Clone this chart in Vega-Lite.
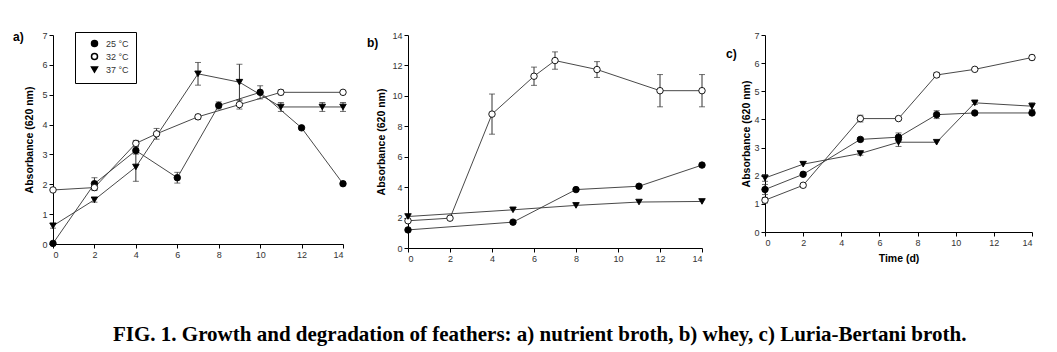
{
  "$schema": "https://vega.github.io/schema/vega-lite/v6.json",
  "background": "white",
  "padding": {"left": 13, "top": 31, "right": 5, "bottom": 5},
  "spacing": 18,
  "title": {"text": "FIG. 1. Growth and degradation of feathers: a) nutrient broth, b) whey, c) Luria-Bertani broth.", "orient": "bottom", "anchor": "start", "frame": "group", "dx": 60, "offset": 60, "font": "Liberation Serif", "fontSize": 21, "fontWeight": "bold", "color": "black"},
  "config": {
    "view": {"stroke": null},
    "axis": {"domainColor": "black", "tickColor": "black", "tickSize": 4, "labelFont": "Liberation Sans", "labelFontSize": 9, "labelColor": "#333", "titleFont": "Liberation Sans", "titleFontSize": 10.5, "titleFontWeight": "bold", "titleColor": "black", "grid": false, "labelPadding": 2}
  },
  "resolve": {"legend": {"shape": "independent", "fill": "independent"}},
  "datasets": {
    "a": [
      {"t": 0, "s": "25 °C", "v": 0.02, "e": 0},
      {"t": 2, "s": "25 °C", "v": 2.02, "e": 0.2},
      {"t": 4, "s": "25 °C", "v": 3.13, "e": 0.12},
      {"t": 6, "s": "25 °C", "v": 2.22, "e": 0.18},
      {"t": 8, "s": "25 °C", "v": 4.64, "e": 0.12},
      {"t": 10, "s": "25 °C", "v": 5.08, "e": 0.22},
      {"t": 12, "s": "25 °C", "v": 3.89, "e": 0},
      {"t": 14, "s": "25 °C", "v": 2.02, "e": 0.05},
      {"t": 0, "s": "32 °C", "v": 1.81, "e": 0},
      {"t": 2, "s": "32 °C", "v": 1.89, "e": 0.1},
      {"t": 4, "s": "32 °C", "v": 3.37, "e": 0.1},
      {"t": 5, "s": "32 °C", "v": 3.69, "e": 0.18},
      {"t": 7, "s": "32 °C", "v": 4.26, "e": 0.08},
      {"t": 9, "s": "32 °C", "v": 4.67, "e": 0.15},
      {"t": 11, "s": "32 °C", "v": 5.08, "e": 0.08},
      {"t": 14, "s": "32 °C", "v": 5.08, "e": 0.05},
      {"t": 0, "s": "37 °C", "v": 0.61, "e": 0.08},
      {"t": 2, "s": "37 °C", "v": 1.48, "e": 0.08},
      {"t": 4, "s": "37 °C", "v": 2.58, "e": 0.48},
      {"t": 7, "s": "37 °C", "v": 5.7, "e": 0.38},
      {"t": 9, "s": "37 °C", "v": 5.42, "e": 0.6},
      {"t": 11, "s": "37 °C", "v": 4.59, "e": 0.15},
      {"t": 13, "s": "37 °C", "v": 4.59, "e": 0.15},
      {"t": 14, "s": "37 °C", "v": 4.59, "e": 0.15}
    ],
    "b": [
      {"t": 0, "s": "32 °C", "v": 1.79, "e": 0},
      {"t": 2, "s": "32 °C", "v": 1.96, "e": 0},
      {"t": 4, "s": "32 °C", "v": 8.8, "e": 1.32},
      {"t": 6, "s": "32 °C", "v": 11.29, "e": 0.6},
      {"t": 7, "s": "32 °C", "v": 12.32, "e": 0.57},
      {"t": 9, "s": "32 °C", "v": 11.73, "e": 0.52},
      {"t": 12, "s": "32 °C", "v": 10.34, "e": 1.06},
      {"t": 14, "s": "32 °C", "v": 10.34, "e": 1.06},
      {"t": 0, "s": "25 °C", "v": 1.19, "e": 0},
      {"t": 5, "s": "25 °C", "v": 1.7, "e": 0},
      {"t": 8, "s": "25 °C", "v": 3.84, "e": 0},
      {"t": 11, "s": "25 °C", "v": 4.06, "e": 0},
      {"t": 14, "s": "25 °C", "v": 5.45, "e": 0},
      {"t": 0, "s": "37 °C", "v": 2.07, "e": 0},
      {"t": 5, "s": "37 °C", "v": 2.51, "e": 0},
      {"t": 8, "s": "37 °C", "v": 2.8, "e": 0},
      {"t": 11, "s": "37 °C", "v": 3.02, "e": 0},
      {"t": 14, "s": "37 °C", "v": 3.06, "e": 0}
    ],
    "c": [
      {"t": 0, "s": "32 °C", "v": 1.13, "e": 0.1},
      {"t": 2, "s": "32 °C", "v": 1.66, "e": 0.06},
      {"t": 5, "s": "32 °C", "v": 4.03, "e": 0.12},
      {"t": 7, "s": "32 °C", "v": 4.03, "e": 0},
      {"t": 9, "s": "32 °C", "v": 5.58, "e": 0.08},
      {"t": 11, "s": "32 °C", "v": 5.78, "e": 0},
      {"t": 14, "s": "32 °C", "v": 6.2, "e": 0.08},
      {"t": 0, "s": "25 °C", "v": 1.51, "e": 0.18},
      {"t": 2, "s": "25 °C", "v": 2.05, "e": 0},
      {"t": 5, "s": "25 °C", "v": 3.29, "e": 0.06},
      {"t": 7, "s": "25 °C", "v": 3.37, "e": 0.15},
      {"t": 9, "s": "25 °C", "v": 4.17, "e": 0.14},
      {"t": 11, "s": "25 °C", "v": 4.23, "e": 0},
      {"t": 14, "s": "25 °C", "v": 4.23, "e": 0.05},
      {"t": 0, "s": "37 °C", "v": 1.92, "e": 0.12},
      {"t": 2, "s": "37 °C", "v": 2.41, "e": 0},
      {"t": 5, "s": "37 °C", "v": 2.79, "e": 0.06},
      {"t": 7, "s": "37 °C", "v": 3.19, "e": 0.15},
      {"t": 9, "s": "37 °C", "v": 3.19, "e": 0},
      {"t": 11, "s": "37 °C", "v": 4.59, "e": 0.06},
      {"t": 14, "s": "37 °C", "v": 4.47, "e": 0.12}
    ]
  },
  "hconcat": [
    {
      "width": 290, "height": 209,
      "data": {"name": "a"},
      "title": {"text": "a)", "anchor": "start", "frame": "group", "orient": "top", "dx": -40, "dy": 22, "offset": 0, "baseline": "alphabetic", "font": "Liberation Sans", "fontSize": 12, "fontWeight": "bold", "color": "black"},
      "encoding": {
        "x": {"field": "t", "type": "quantitative", "scale": {"domain": [0, 14], "nice": false}, "axis": {"values": [0, 2, 4, 6, 8, 10, 12, 14], "title": null}},
        "y": {"field": "v", "type": "quantitative", "scale": {"domain": [0, 7], "nice": false}, "axis": {"values": [0, 1, 2, 3, 4, 5, 6, 7], "title": "Absorbance (620 nm)", "titlePadding": 7}}
      },
      "layer": [
        {"mark": {"type": "line", "color": "#333", "strokeWidth": 0.9}, "encoding": {"detail": {"field": "s"}}},
        {"transform": [{"filter": "datum.e > 0"}], "mark": {"type": "errorbar", "color": "#333", "ticks": {"size": 6, "color": "#333"}, "rule": {"strokeWidth": 1}}, "encoding": {"yError": {"field": "e"}}},
        {"mark": {"type": "point", "filled": true, "stroke": "black", "strokeWidth": 0.9, "size": 42, "opacity": 1},
         "encoding": {
           "shape": {"field": "s", "type": "nominal", "scale": {"domain": ["25 °C", "32 °C", "37 °C"], "range": ["circle", "circle", "triangle-down"]},
             "legend": {"title": null, "orient": "none", "legendX": 22, "legendY": -3, "strokeColor": "black", "padding": 7, "symbolOffset": 8, "labelFont": "Liberation Sans", "labelFontSize": 9, "labelColor": "#333", "rowPadding": 0, "labelOffset": 7, "symbolSize": 36,
               "encode": {"symbols": {"update": {"stroke": {"value": "black"}, "strokeWidth": {"value": 1}}}}}},
           "fill": {"field": "s", "type": "nominal", "scale": {"domain": ["25 °C", "32 °C", "37 °C"], "range": ["black", "white", "black"]},
             "legend": {"title": null, "orient": "none", "legendX": 22, "legendY": -3, "strokeColor": "black", "padding": 7, "symbolOffset": 8, "labelFont": "Liberation Sans", "labelFontSize": 9, "labelColor": "#333", "rowPadding": 0, "labelOffset": 7, "symbolSize": 36,
               "encode": {"symbols": {"update": {"stroke": {"value": "black"}, "strokeWidth": {"value": 1}}}}}}
         }}
      ]
    },
    {
      "width": 294, "height": 213,
      "data": {"name": "b"},
      "title": {"text": "b)", "anchor": "start", "frame": "group", "orient": "top", "dx": -41, "dy": 28, "offset": 0, "baseline": "alphabetic", "font": "Liberation Sans", "fontSize": 12, "fontWeight": "bold", "color": "black"},
      "encoding": {
        "x": {"field": "t", "type": "quantitative", "scale": {"domain": [0, 14], "nice": false}, "axis": {"values": [0, 2, 4, 6, 8, 10, 12, 14], "title": null}},
        "y": {"field": "v", "type": "quantitative", "scale": {"domain": [0, 14], "nice": false}, "axis": {"values": [0, 2, 4, 6, 8, 10, 12, 14], "title": "Absorbance (620 nm)", "titlePadding": 5}}
      },
      "layer": [
        {"mark": {"type": "line", "color": "#333", "strokeWidth": 0.9}, "encoding": {"detail": {"field": "s"}}},
        {"transform": [{"filter": "datum.e > 0"}], "mark": {"type": "errorbar", "color": "#333", "ticks": {"size": 6, "color": "#333"}, "rule": {"strokeWidth": 1}}, "encoding": {"yError": {"field": "e"}}},
        {"mark": {"type": "point", "filled": true, "stroke": "black", "strokeWidth": 0.9, "size": 42, "opacity": 1},
         "encoding": {
           "shape": {"field": "s", "type": "nominal", "scale": {"domain": ["25 °C", "32 °C", "37 °C"], "range": ["circle", "circle", "triangle-down"]}, "legend": null},
           "fill": {"field": "s", "type": "nominal", "scale": {"domain": ["25 °C", "32 °C", "37 °C"], "range": ["black", "white", "black"]}, "legend": null}
         }}
      ]
    },
    {
      "width": 267, "height": 197,
      "data": {"name": "c"},
      "title": {"text": "c)", "anchor": "start", "frame": "group", "orient": "top", "dx": -39, "dy": 39, "offset": 0, "baseline": "alphabetic", "font": "Liberation Sans", "fontSize": 12, "fontWeight": "bold", "color": "black"},
      "encoding": {
        "x": {"field": "t", "type": "quantitative", "scale": {"domain": [0, 14], "nice": false}, "axis": {"values": [0, 2, 4, 6, 8, 10, 12, 14], "title": "Time (d)", "titlePadding": 6}},
        "y": {"field": "v", "type": "quantitative", "scale": {"domain": [0, 7], "nice": false}, "axis": {"values": [0, 1, 2, 3, 4, 5, 6, 7], "title": "Absorbance (620 nm)", "titlePadding": 2}}
      },
      "layer": [
        {"mark": {"type": "line", "color": "#333", "strokeWidth": 0.9}, "encoding": {"detail": {"field": "s"}}},
        {"transform": [{"filter": "datum.e > 0"}], "mark": {"type": "errorbar", "color": "#333", "ticks": {"size": 6, "color": "#333"}, "rule": {"strokeWidth": 1}}, "encoding": {"yError": {"field": "e"}}},
        {"mark": {"type": "point", "filled": true, "stroke": "black", "strokeWidth": 0.9, "size": 42, "opacity": 1},
         "encoding": {
           "shape": {"field": "s", "type": "nominal", "scale": {"domain": ["25 °C", "32 °C", "37 °C"], "range": ["circle", "circle", "triangle-down"]}, "legend": null},
           "fill": {"field": "s", "type": "nominal", "scale": {"domain": ["25 °C", "32 °C", "37 °C"], "range": ["black", "white", "black"]}, "legend": null}
         }}
      ]
    }
  ]
}
